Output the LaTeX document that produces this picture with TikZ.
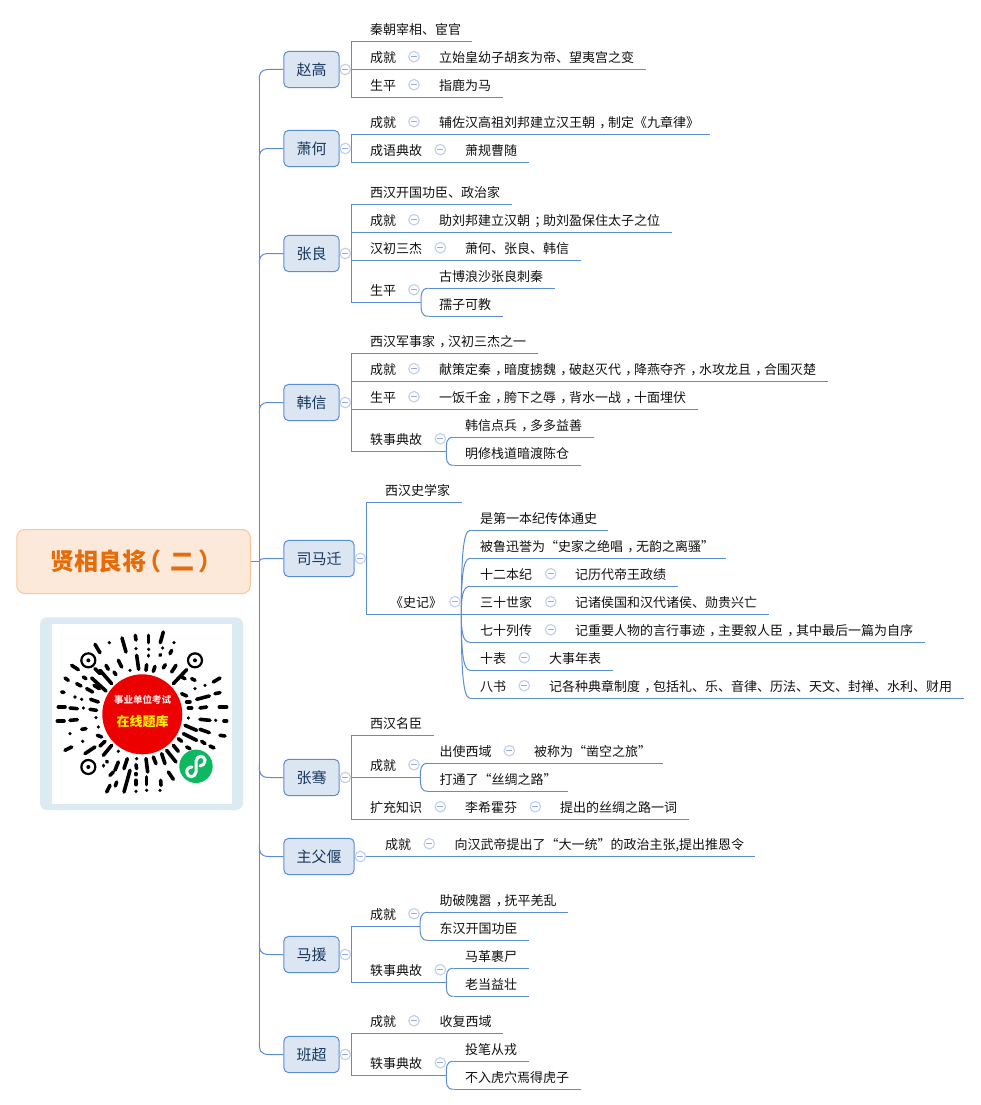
\documentclass[tikz,border=0pt]{standalone}
\usepackage{fontspec}
\usetikzlibrary{calc}
\setmainfont{Noto Sans CJK SC}
\definecolor{linkc}{HTML}{5B8DD6}
\definecolor{foldl}{HTML}{BFCFEE}
\definecolor{foldm}{HTML}{93ABDF}
\definecolor{boxf}{HTML}{DCE6F2}
\definecolor{boxt}{HTML}{17375E}
\definecolor{rootf}{HTML}{FDE9DA}
\definecolor{rootd}{HTML}{F8C79A}
\definecolor{roott}{HTML}{E46C0A}
\definecolor{panelc}{HTML}{DCEBF2}
\definecolor{leaft}{HTML}{111111}
\definecolor{qrred}{HTML}{EC0000}
\definecolor{qrgreen}{HTML}{0DB860}
\newcounter{foldn}
\newcommand\cma{\makebox[1em][l]{\kern.33em ，}}
\newcommand\scl{\makebox[1em][l]{\kern.33em ；}}
\newcommand\lpar{\makebox[1em][l]{\kern-.35em （}}
\newcommand\rpar{\makebox[1em][l]{\kern.18em ）}}
\tikzset{
  link/.style={draw=linkc,line width=1pt},
  leaf/.style={anchor=west,inner sep=0pt,text height=11.5pt,text depth=1.5pt,text=leaft,font=\fontsize{13}{13}\selectfont},
  branch/.style={draw=linkc,line width=1pt,fill=boxf,rounded corners=5pt,text=boxt,inner sep=0pt,minimum height=36.4pt,font=\fontsize{15}{15}\selectfont},
  foldc/.style={circle,draw=foldl,fill=white,line width=1.1pt,minimum size=10.5pt,inner sep=0pt,
    path picture={\draw[foldm,line width=1pt] ($(path picture bounding box.center)+(-3,0)$) -- ($(path picture bounding box.center)+(3,0)$);}},
  qrd/.style={line width=3.6pt,line cap=round,draw=black},
}
% leaf text with its underline: name, text x, line y, line start, line end, text
\newcommand\rowl[6]{\node[leaf] (#1) at (#2,#3-12) {#6};
  \coordinate (#1-a) at (#4,#3); \coordinate (#1-b) at (#5,#3);
  \draw[link] (#1-a) -- (#1-b);}
% text standing on the underline of the row before it
\newcommand\wordl[4]{\node[leaf] (#1) at (#2,#3-12) {#4};}
\newcommand\foldm[2]{\stepcounter{foldn}\node[foldc] (fold\thefoldn) at (#1,#2) {};}
% curved link from a junction to the start of a child's underline
\newcommand\curv[2]{\draw[link] (#1) .. controls ($(#1)!.6!(#1|-#2)$) and ($(#2)+(-7.5,0)$) .. (#2);}
% link from the trunk to a branch box
\newcommand\blink[3]{\coordinate (#1) at (259.3,#2);
  \coordinate (#1-e) at (269.5,{#3});
  \draw[link] (#1) .. controls ($(#1)!.6!(#1|-#1-e)$) and (259.3,{#3}) .. (#1-e) -- (#1-e-|#1-n.west);}
\begin{document}
\begin{tikzpicture}[x=1pt,y=-1pt]
\useasboundingbox (0,0) rectangle (980,1105);
\fill[white] (0,0) rectangle (980,1105);

% root
\node[draw=rootd,line width=1pt,fill=rootf,rounded corners=8pt,minimum width=233.5pt,minimum height=64pt,inner sep=0pt,text=roott,font=\fontsize{24}{24}\selectfont\bfseries,anchor=west] (root) at (16.3,561.5) {\hspace{1pt}贤相良将\lpar 二\rpar};

% branch boxes
\node[branch,minimum width=55.4pt,anchor=west] (zhao-n) at (283.3,69.5) {赵高};
\node[branch,minimum width=55.4pt,anchor=west] (xiao-n) at (283.3,148.5) {萧何};
\node[branch,minimum width=55.4pt,anchor=west] (zhang-n) at (283.3,253.5) {张良};
\node[branch,minimum width=55.4pt,anchor=west] (han-n) at (283.3,402.5) {韩信};
\node[branch,minimum width=70.4pt,anchor=west] (sima-n) at (283.3,558.5) {司马迁};
\node[branch,minimum width=55.4pt,anchor=west] (qian-n) at (283.3,777.5) {张骞};
\node[branch,minimum width=70.4pt,anchor=west] (zhu-n) at (283.3,856.5) {主父偃};
\node[branch,minimum width=55.4pt,anchor=west] (ma-n) at (283.3,954.5) {马援};
\node[branch,minimum width=55.4pt,anchor=west] (ban-n) at (283.3,1054.5) {班超};

% trunk
\coordinate (trunk-top) at (259.3,81);
\coordinate (trunk-bot) at (259.3,1042);
\draw[link] (trunk-top) -- (trunk-bot);
\draw[link] (root.east) -- (root.east-|trunk-top);
\blink{zhao}{81}{69.5}
\blink{xiao}{160}{148.5}
\blink{zhang}{265}{253.5}
\blink{han}{414}{402.5}
\blink{sima}{561.5}{558.5}
\blink{qian}{765}{777.5}
\blink{zhu}{844}{856.5}
\blink{ma}{942}{954.5}
\blink{ban}{1042}{1054.5}

% 赵高
\rowl{zg1}{370}{41.3}{351.3}{472}{秦朝宰相、宦官}
\rowl{zg2}{370}{69.3}{351.3}{646}{成就}
\wordl{zg2c}{439}{69.3}{立始皇幼子胡亥为帝、望夷宫之变}
\rowl{zg3}{370}{97.3}{351.3}{503}{生平}
\wordl{zg3c}{439}{97.3}{指鹿为马}
\draw[link] (zg1-a) -- (zg3-a);
\draw[link] (zhao-n.east) -- (zhao-n.east-|zg1-a);
\foldm{345.3}{69.5}\foldm{414}{56.7}\foldm{414}{84.7}

% 萧何
\rowl{xh1}{370}{134.3}{351.3}{710}{成就}
\wordl{xh1c}{439}{134.3}{辅佐汉高祖刘邦建立汉王朝\cma 制定《九章律》}
\rowl{xh2}{370}{162.3}{351.3}{529}{成语典故}
\wordl{xh2c}{465}{162.3}{萧规曹随}
\draw[link] (xh1-a) -- (xh2-a);
\draw[link] (xiao-n.east) -- (xiao-n.east-|xh1-a);
\foldm{345.3}{148.5}\foldm{414}{121.7}\foldm{440.3}{149.7}

% 张良
\rowl{zl1}{370}{204.3}{351.3}{511.7}{西汉开国功臣、政治家}
\rowl{zl2}{370}{232.3}{351.3}{671.7}{成就}
\wordl{zl2c}{439}{232.3}{助刘邦建立汉朝\scl 助刘盈保住太子之位}
\rowl{zl3}{370}{260.3}{351.3}{580.7}{汉初三杰}
\wordl{zl3c}{465}{260.3}{萧何、张良、韩信}
\rowl{zl4}{370}{302.3}{351.3}{421}{生平}
\rowl{zl4a}{439}{288.3}{428.5}{554.7}{古博浪沙张良刺秦}
\rowl{zl4b}{439}{316.3}{428.5}{502.7}{孺子可教}
\curv{zl4-b}{zl4a-a}\curv{zl4-b}{zl4b-a}
\draw[link] (zl1-a) -- (zl4-a);
\draw[link] (zhang-n.east) -- (zhang-n.east-|zl1-a);
\foldm{345.3}{253.5}\foldm{414}{219.7}\foldm{440.3}{247.7}\foldm{414}{289.7}

% 韩信
\rowl{hx1}{370}{353.3}{351.3}{537.7}{西汉军事家\cma 汉初三杰之一}
\rowl{hx2}{370}{381.3}{351.3}{827.7}{成就}
\wordl{hx2c}{439}{381.3}{献策定秦\cma 暗度掳魏\cma 破赵灭代\cma 降燕夺齐\cma 水攻龙且\cma 合围灭楚}
\rowl{hx3}{370}{409.3}{351.3}{697.7}{生平}
\wordl{hx3c}{439}{409.3}{一饭千金\cma 胯下之辱\cma 背水一战\cma 十面埋伏}
\rowl{hx4}{370}{451.3}{351.3}{446.3}{轶事典故}
\rowl{hx4a}{465}{437.3}{453.5}{593.7}{韩信点兵\cma 多多益善}
\rowl{hx4b}{465}{465.3}{453.5}{580.7}{明修栈道暗渡陈仓}
\curv{hx4-b}{hx4a-a}\curv{hx4-b}{hx4b-a}
\draw[link] (hx1-a) -- (hx4-a);
\draw[link] (han-n.east) -- (han-n.east-|hx1-a);
\foldm{345.3}{402.5}\foldm{414}{368.7}\foldm{414}{396.7}\foldm{440.3}{438.7}

% 司马迁
\rowl{sm1}{385}{502.3}{366.3}{462}{西汉史学家}
\rowl{sm2}{390}{614.3}{366.3}{461.3}{《史记》}
\rowl{sj1}{480}{530.3}{470}{608.3}{是第一本纪传体通史}
\rowl{sj2}{480}{558.3}{470}{725.7}{被鲁迅誉为“史家之绝唱\cma 无韵之离骚”}
\rowl{sj3}{480}{586.3}{470}{677.7}{十二本纪}
\wordl{sj3c}{575}{586.3}{记历代帝王政绩}
\rowl{sj4}{480}{614.3}{470}{768.7}{三十世家}
\wordl{sj4c}{575}{614.3}{记诸侯国和汉代诸侯、勋贵兴亡}
\rowl{sj5}{480}{642.3}{470}{924.7}{七十列传}
\wordl{sj5c}{575}{642.3}{记重要人物的言行事迹\cma 主要叙人臣\cma 其中最后一篇为自序}
\rowl{sj6}{480}{670.3}{470}{612.7}{十表}
\wordl{sj6c}{549}{670.3}{大事年表}
\rowl{sj7}{480}{698.3}{470}{964}{八书}
\wordl{sj7c}{549}{698.3}{记各种典章制度\cma 包括礼、乐、音律、历法、天文、封禅、水利、财用}
\foreach \c in {sj1,sj2,sj3,sj5,sj6,sj7}{\curv{sm2-b}{\c-a}}
\draw[link] (sm2-b) -- (sj4-a);
\draw[link] (sm1-a) -- (sm2-a);
\draw[link] (sima-n.east) -- (sima-n.east-|sm1-a);
\foldm{360.3}{558.5}\foldm{455}{601.7}\foldm{550.7}{573.7}\foldm{550.7}{601.7}\foldm{550.7}{629.7}\foldm{524.3}{657.7}\foldm{524.3}{685.7}

% 张骞
\rowl{zq1}{370}{735}{351.3}{434}{西汉名臣}
\rowl{zq2}{370}{777.3}{351.3}{420.3}{成就}
\rowl{zq2a}{439.3}{763.3}{428}{662.7}{出使西域}
\wordl{zq2ac}{534}{763.3}{被称为“凿空之旅”}
\rowl{zq2b}{439.3}{791.3}{428}{567.7}{打通了“丝绸之路”}
\curv{zq2-b}{zq2a-a}\curv{zq2-b}{zq2b-a}
\rowl{zq3}{370}{819.3}{351.3}{688.7}{扩充知识}
\wordl{zq3b}{465}{819.3}{李希霍芬}
\wordl{zq3c}{560}{819.3}{提出的丝绸之路一词}
\draw[link] (zq1-a) -- (zq3-a);
\draw[link] (qian-n.east) -- (qian-n.east-|zq1-a);
\foldm{345.3}{777.5}\foldm{414}{764.7}\foldm{509.3}{750.7}\foldm{440.3}{806.7}\foldm{535.3}{806.7}

% 主父偃
\rowl{zf1}{385}{856.3}{366.3}{755}{成就}
\wordl{zf1c}{454.3}{856.3}{向汉武帝提出了“大一统”的政治主张,提出推恩令}
\draw[link] (zhu-n.east) -- (zf1-a);
\foldm{360.3}{856.5}\foldm{429.3}{843.7}

% 马援
\rowl{my1}{370}{926.3}{351.3}{420}{成就}
\rowl{my1a}{439.3}{912.3}{428}{567.7}{助破隗嚣\cma 抚平羌乱}
\rowl{my1b}{439.3}{940.3}{428}{528.7}{东汉开国功臣}
\curv{my1-b}{my1a-a}\curv{my1-b}{my1b-a}
\rowl{my2}{370}{982.3}{351.3}{446.3}{轶事典故}
\rowl{my2a}{465}{968.3}{453.5}{528.7}{马革裹尸}
\rowl{my2b}{465}{996.3}{453.5}{528.7}{老当益壮}
\curv{my2-b}{my2a-a}\curv{my2-b}{my2b-a}
\draw[link] (my1-a) -- (my2-a);
\draw[link] (ma-n.east) -- (ma-n.east-|my1-a);
\foldm{345.3}{954.5}\foldm{414}{913.7}\foldm{440.3}{969.7}

% 班超
\rowl{bc1}{370}{1033.3}{351.3}{503}{成就}
\wordl{bc1c}{439.3}{1033.3}{收复西域}
\rowl{bc2}{370}{1075.3}{351.3}{446.3}{轶事典故}
\rowl{bc2a}{465}{1061.3}{453.5}{528.7}{投笔从戎}
\rowl{bc2b}{465}{1089.3}{453.5}{580.7}{不入虎穴焉得虎子}
\curv{bc2-b}{bc2a-a}\curv{bc2-b}{bc2b-a}
\draw[link] (bc1-a) -- (bc2-a);
\draw[link] (ban-n.east) -- (ban-n.east-|bc1-a);
\foldm{345.3}{1054.5}\foldm{414}{1020.7}\foldm{440.3}{1062.7}

% QR panel
\fill[panelc,rounded corners=7pt] (40,617.3) rectangle (243,810);
\fill[white] (52,624) rectangle (232,804);
\begin{scope}[shift={(50,622)},x=0.3333pt,y=-0.3333pt]
  \foreach \a/\b/\c/\d in {
    340/30/331/62, 296/40/296/62, 256/40/258/54, 216/48/228/90, 178/62/178/62, 135/67/150/92,
    372/62/372/62, 365/85/360/95, 296/82/296/82, 296/100/296/102, 258/80/258/80, 260/100/266/142,
    338/78/338/78, 332/98/330/100, 290/128/288/145, 315/133/310/148, 346/128/340/138, 378/130/365/150,
    410/143/370/185, 205/115/215/135, 168/130/175/142, 150/145/185/185, 125/168/168/207, 135/140/150/155,
    240/145/240/145, 192/150/198/158,
    25/255/45/255, 60/258/82/260, 120/262/140/265, 22/297/42/297, 60/295/82/293, 122/232/145/240,
    35/210/42/211, 45/168/55/175, 65/130/85/143, 80/185/93/192, 110/200/128/210, 100/258/100/258,
    75/225/75/225, 95/232/95/232, 95/322/108/320, 60/335/60/335, 98/358/98/358, 45/385/65/375,
    105/395/135/375, 150/372/165/358, 160/400/185/370, 142/340/155/345, 145/315/145/315, 138/287/138/287,
    100/165/108/170, 132/190/148/200,
    490/180/510/168, 440/232/478/222, 495/215/510/212, 435/200/435/200, 395/215/410/222, 410/240/420/240,
    508/255/530/255, 450/258/470/255, 415/258/425/258, 450/292/480/295, 497/295/497/295, 522/297/530/297,
    415/288/415/288, 405/310/440/325, 450/322/478/332, 510/340/525/342, 400/335/440/355, 455/358/465/365,
    480/372/492/378, 385/350/395/358, 410/375/420/380, 425/170/435/175, 395/165/405/170, 465/190/465/190,
    370/370/385/388, 350/385/378/420, 335/395/345/425, 310/405/318/425, 288/410/293/450, 260/410/260/410,
    258/428/260/440, 232/410/222/440, 205/420/195/445, 180/460/190/450, 240/445/222/510, 200/480/196/492,
    180/490/170/510, 258/455/258/458, 258/475/258/488, 258/508/258/508, 290/465/290/488, 290/505/290/505,
    332/475/333/490, 330/505/330/505, 355/450/370/472, 205/388/205/388, 160/430/160/432, 170/418/172/420
  }{\draw[qrd] (\a,\b) -- (\c,\d);}
  \foreach \p/\q in {115/115,435/115,115/435}{
    \draw[black,line width=2.2pt] (\p,\q) circle[radius=21];
    \fill[black] (\p,\q) circle[radius=6];
  }
\end{scope}
\fill[qrred] (142.3,714.3) circle[radius=40];
\node[inner sep=0pt,text=red!12!white,font=\fontsize{9.5}{9.5}\selectfont\bfseries] (qrtop) at (142.5,699.5) {事业单位考试};
\node[inner sep=0pt,text=yellow,font=\fontsize{13}{13}\selectfont\bfseries] (qrbot) at (142.5,722) {在线题库};
\fill[qrgreen] (196,766.3) circle[radius=16.7];
\draw[white,line width=3pt,line cap=round] (187,773) .. controls (188,778) and (195,778) .. (196,772) -- (196,761) .. controls (197,755) and (204,755) .. (205,760) .. controls (205,764) and (202,766) .. (200,766);
\draw[white,line width=3pt,line cap=round] (187,773) .. controls (186,769) and (189,767) .. (192,767);
\end{tikzpicture}
\end{document}
